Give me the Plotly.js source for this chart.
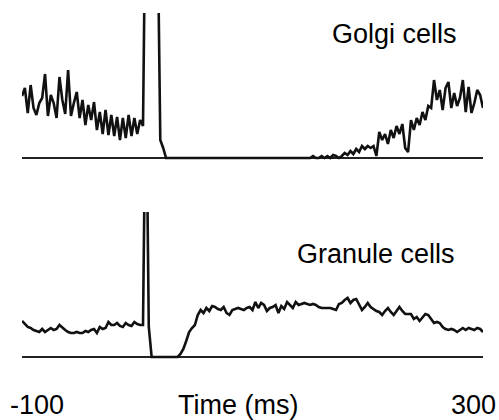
<!DOCTYPE html>
<html>
<head>
<meta charset="utf-8">
<script src="https://cdn.plot.ly/plotly-3.0.1.min.js"></script>
<style>html,body{margin:0;padding:0;background:#fff;}#chart{width:499px;height:420px;}</style>
</head>
<body>
<div id="chart"></div>
<script>
// Peri-stimulus time histograms, 2.5 ms bins from -100 ms to 300 ms
const binStart = -100;
const binWidth = 2.5;

// Golgi cells firing rate (arbitrary units, stimulus artifact is clipped)
const golgiRate = [
  62,70,45,73,50,43,55,60,84,42,63,55,40,81,58,44,88,42,55,66,
  40,58,33,53,38,56,28,46,24,48,23,43,22,41,18,40,20,43,22,40,
  24,38,32,300,300,300,300,250,18,10,0,0,0,0,0,0,0,0,0,0,
  0,0,0,0,0,0,0,0,0,0,0,0,0,0,0,0,0,0,0,0,
  0,0,0,0,0,0,0,0,0,0,0,0,0,0,0,0,0,0,0,0,
  0,2,0,0,2,0,2,0,3,2,0,2,5,3,7,4,9,6,12,9,
  12,10,12,2,26,18,24,14,28,20,32,24,34,10,6,38,28,40,33,46,
  38,52,50,78,58,68,48,70,76,50,65,52,60,78,46,71,45,55,68,63,
  50
];

// Granule cells firing rate (arbitrary units)
const granuleRate = [
  36,33,30,29,27,26,25,28,25,27,29,27,28,32,29,27,25,24,24,25,
  24,24,26,25,27,28,24,30,28,29,35,32,32,34,31,30,34,32,31,35,
  33,32,32,300,30,0,0,0,0,0,0,0,0,0,0,3,8,16,25,29,
  32,42,47,44,49,46,51,50,48,47,50,44,42,47,48,49,48,47,49,50,
  47,55,49,54,52,46,49,50,52,44,51,48,55,52,49,55,52,53,54,53,
  52,53,52,50,49,49,49,49,48,47,53,54,57,59,54,57,58,53,47,50,
  54,50,48,46,45,42,46,49,45,42,46,50,46,43,43,43,38,40,36,39,
  43,42,38,34,35,34,30,28,27,28,27,25,27,29,27,29,28,27,29,28,
  25
];

const tickValues = [-100, 300];
const tickLabels = ['-100', '300'];
const xAxisTitle = 'Time (ms)';
const panelLabels = ['Golgi cells', 'Granule cells'];

const timeMs = golgiRate.map((_, i) => binStart + i * binWidth);

const lineStyle = {color: '#111', width: 2.6, shape: 'linear'};
const traces = [
  {x: timeMs, y: golgiRate, xaxis: 'x', yaxis: 'y', mode: 'lines', line: lineStyle, hoverinfo: 'skip'},
  {x: timeMs, y: granuleRate, xaxis: 'x2', yaxis: 'y2', mode: 'lines', line: lineStyle, hoverinfo: 'skip'}
];

const font = {family: '"Liberation Sans", Arial, Helvetica, sans-serif', color: '#000'};
const xCommon = {range: [-100, 300], showgrid: false, zeroline: false, showline: false, showticklabels: false, ticks: ''};
const yCommon = {range: [-2, 145], showgrid: false, zeroline: true, zerolinecolor: '#222', zerolinewidth: 1.5, showline: false, showticklabels: false, ticks: ''};

const annotations = [
  {text: panelLabels[0], xref: 'paper', yref: 'paper', x: 0.807, y: 0.938, xanchor: 'center', yanchor: 'middle', showarrow: false, font: Object.assign({size: 27}, font)},
  {text: panelLabels[1], xref: 'paper', yref: 'paper', x: 0.767, y: 0.303, xanchor: 'center', yanchor: 'middle', showarrow: false, font: Object.assign({size: 27}, font)},
  {text: tickLabels[0], xref: 'x2', yref: 'paper', x: tickValues[0], xshift: 14.5, y: -0.133, xanchor: 'center', yanchor: 'middle', showarrow: false, font: Object.assign({size: 27}, font)},
  {text: tickLabels[1], xref: 'x2', yref: 'paper', x: tickValues[1], xshift: -9.5, y: -0.133, xanchor: 'center', yanchor: 'middle', showarrow: false, font: Object.assign({size: 27}, font)},
  {text: xAxisTitle, xref: 'paper', yref: 'paper', x: 0.4675, y: -0.133, xanchor: 'center', yanchor: 'middle', showarrow: false, font: Object.assign({size: 27}, font)}
];

const layout = {
  width: 499, height: 420,
  margin: {l: 22, r: 16, t: 13, b: 61},
  paper_bgcolor: '#fff', plot_bgcolor: '#fff',
  showlegend: false,
  font: font,
  xaxis: Object.assign({anchor: 'y'}, xCommon),
  yaxis: Object.assign({domain: [0.5751, 1], anchor: 'x'}, yCommon),
  xaxis2: Object.assign({anchor: 'y2'}, xCommon),
  yaxis2: Object.assign({domain: [0, 0.4249], anchor: 'x2'}, yCommon),
  annotations: annotations
};

Plotly.newPlot('chart', traces, layout, {staticPlot: true, displayModeBar: false});
</script>
</body>
</html>
